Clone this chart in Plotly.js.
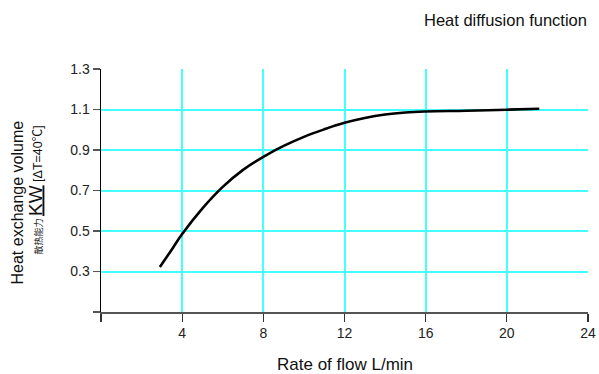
<!DOCTYPE html>
<html>
<head>
<meta charset="utf-8">
<script src="https://cdn.plot.ly/plotly-3.0.1.min.js"></script>
<style>html,body{margin:0;padding:0;background:#fff;}#chart{width:599px;height:374px;}</style>
</head>
<body>
<div id="chart"></div>
<script>
const flowRate = [2.9, 3.5, 4, 5, 6, 7, 8, 9, 10, 11, 12, 13, 14, 15, 16, 18, 20, 21.6];
const heatVolume = [0.322, 0.41, 0.485, 0.612, 0.718, 0.802, 0.866, 0.92, 0.965, 1.002, 1.034, 1.058, 1.075, 1.085, 1.09, 1.094, 1.099, 1.104];
const xTickVals = [0, 4, 8, 12, 16, 20, 24];
const xTickText = ['', '4', '8', '12', '16', '20', '24'];
const yTickVals = [0.1, 0.3, 0.5, 0.7, 0.9, 1.1, 1.3];
const yTickText = ['', '0.3', '0.5', '0.7', '0.9', '1.1', '1.3'];

const font = 'Liberation Sans, Arial, sans-serif';
const trace = {
  x: flowRate, y: heatVolume, type: 'scatter', mode: 'lines',
  line: {color: '#000', width: 2.6, shape: 'spline', smoothing: 1.2},
  hoverinfo: 'skip'
};
const layout = {
  width: 599, height: 374,
  margin: {l: 101, r: 11, t: 69, b: 62},
  paper_bgcolor: '#fff', plot_bgcolor: '#fff',
  showlegend: false,
  font: {family: font, color: '#222', size: 14},
  xaxis: {
    range: [0, 24], tickvals: xTickVals, ticktext: xTickText,
    showgrid: true, gridcolor: '#44ffff', gridwidth: 2,
    showline: true, linecolor: '#555', linewidth: 1.5,
    ticks: 'outside', ticklen: 8, tickcolor: '#333', tickwidth: 1.3,
    tickfont: {family: font, size: 14, color: '#222'},
    zeroline: false
  },
  yaxis: {
    range: [0.1, 1.3], tickvals: yTickVals, ticktext: yTickText,
    showgrid: true, gridcolor: '#44ffff', gridwidth: 2,
    showline: true, linecolor: '#000', linewidth: 1.5,
    ticks: 'outside', ticklen: 7, tickcolor: '#555', tickwidth: 1.3,
    tickfont: {family: font, size: 14, color: '#222'},
    zeroline: false
  },
  annotations: [
    {text: 'Heat diffusion function', xref: 'paper', yref: 'paper', x: 1, y: 1,
     xanchor: 'right', yanchor: 'middle', yshift: 49, xshift: 1, showarrow: false,
     font: {family: font, size: 16.5, color: '#111'}},
    {text: 'Rate of flow L/min', xref: 'paper', yref: 'paper', x: 0.5, y: 0,
     xanchor: 'center', yanchor: 'middle', yshift: -52, showarrow: false,
     font: {family: font, size: 17, color: '#111'}},
    {text: 'Heat exchange volume', xref: 'paper', yref: 'paper', x: 0, y: 0.5,
     xanchor: 'center', yanchor: 'middle', xshift: -84, yshift: -12, textangle: -90, showarrow: false,
     font: {family: font, size: 16, color: '#111'}},
    {text: '<span style="font-size:9px">散热能力 </span><span style="font-size:19px"><u>KW</u></span><span style="font-size:12.5px"> [ΔT=40℃]</span>',
     xref: 'paper', yref: 'paper', x: 0, y: 0.5,
     xanchor: 'center', yanchor: 'middle', xshift: -66, yshift: 0, textangle: -90, showarrow: false,
     font: {family: 'Liberation Sans, Noto Sans CJK SC, sans-serif', size: 12, color: '#111'}}
  ]
};
Plotly.newPlot('chart', [trace], layout, {displayModeBar: false, staticPlot: true});
</script>
</body>
</html>
